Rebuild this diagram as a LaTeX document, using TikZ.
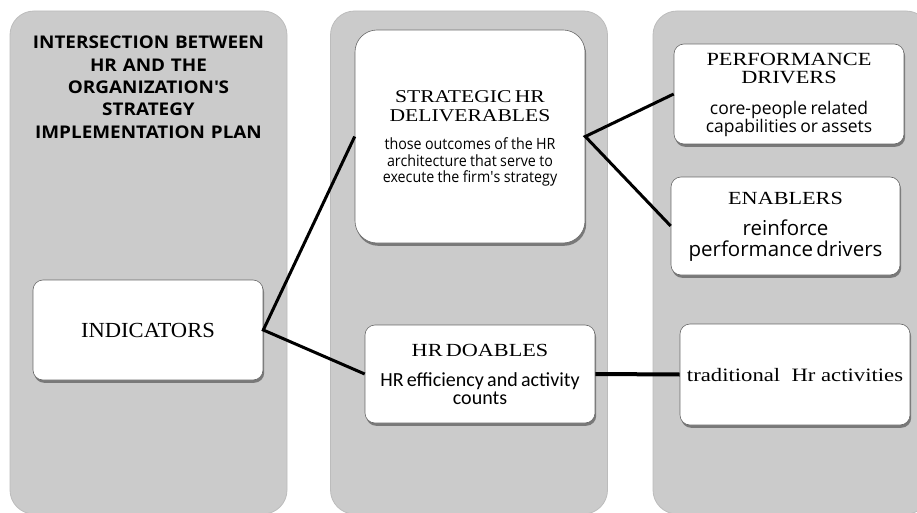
\documentclass[tikz,border=0pt]{standalone}
\usepackage{fontspec}
\setmainfont{Liberation Serif}
\newfontfamily\hdfont[FakeStretch=1.2]{Liberation Serif}
\newfontfamily\indfont[FakeStretch=1.05]{Liberation Serif}
\newfontfamily\bodyfont{Open Sans}
\newfontfamily\narrowbody[FakeStretch=0.92]{Open Sans}
\newfontfamily\calfont{Carlito}
\newfontfamily\titlefont[FakeStretch=1.08]{Open Sans}
\usetikzlibrary{shadows}
\definecolor{colgray}{RGB}{203,203,203}
\definecolor{coledge}{RGB}{188,188,188}
\definecolor{boxedge}{RGB}{105,105,105}
\lineskiplimit=-30pt
\begin{document}
\begin{tikzpicture}[x=1pt,y=-1pt,
  column/.style={fill=colgray, draw=coledge, line width=0.8pt, rounded corners=24pt,
    minimum width=277pt, minimum height=503pt, inner sep=0pt},
  card/.style={fill=white, draw=boxedge, line width=0.6pt, rounded corners=10pt,
    inner sep=0pt, align=center,
    drop shadow={shadow xshift=1.2pt, shadow yshift=-2.8pt, fill=black, opacity=0.4}},
  link/.style={line width=3pt, draw=black, line join=miter}
]
\useasboundingbox (0,0) rectangle (917,513);

% columns
\node[column] (col1) at (148.5,262.5) {};
\node[column] (col2) at (469,262.5) {};
\node[column] (col3) at (791.5,262.5) {};

% title
\node[anchor=north, text width=272pt, align=center, inner sep=0pt,
  font=\titlefont\bfseries\fontsize{17.5}{22.3}\selectfont] (title) at (148.5,36)
  {INTERSECTION BETWEEN\\HR AND THE\\ORGANIZATION\textquotesingle S\\STRATEGY\\IMPLEMENTATION PLAN};

% boxes
\node[card, minimum width=230pt, minimum height=100pt,
  font=\indfont\fontsize{21.5}{22}\selectfont] (ind) at (148,330) {INDICATORS};

\node[card, rounded corners=22pt, minimum width=230pt, minimum height=213pt, text width=228pt]
  (sd) at (470,136.5)
  {{\hdfont\fontsize{18}{19}\selectfont \rule{0pt}{16.7pt}STRATEGIC HR\\DELIVERABLES\par}
   \vskip 11.5pt
   {\narrowbody\fontsize{15.5}{16.5}\selectfont those outcomes of the HR\\architecture that serve to\\execute the firm\textquotesingle s strategy\par}};

\node[card, minimum width=230pt, minimum height=100pt, text width=228pt]
  (perf) at (789,94)
  {{\hdfont\fontsize{18.6}{18}\selectfont \rule{0pt}{14.2pt}PERFORMANCE\\DRIVERS\par}
   \vskip 14pt
   {\bodyfont\fontsize{17.5}{17}\selectfont core-people related\\capabilities or assets\par}};

\node[card, minimum width=229pt, minimum height=98pt, text width=227pt]
  (ena) at (785.5,226)
  {{\hdfont\fontsize{18.5}{19}\selectfont \rule{0pt}{14.9pt}ENABLERS\par}
   \vskip 10pt
   {\bodyfont\fontsize{20.5}{21}\selectfont reinforce\\performance drivers\par}};

\node[card, minimum width=230pt, minimum height=98pt, text width=228pt]
  (doa) at (480,374)
  {{\hdfont\fontsize{18.5}{19}\selectfont \rule{0pt}{14pt}HR DOABLES\par}
   \vskip 12pt
   {\calfont\fontsize{20}{18}\selectfont HR efficiency and activity\\counts\par}};

\node[card, minimum width=230pt, minimum height=101pt,
  font=\hdfont\fontsize{18.9}{19}\selectfont] (trad) at (795,374.5)
  {\rule{0pt}{15pt}traditional~ Hr activities};

% connectors
\draw[link] (sd.west) -- (ind.east) -- (doa.west);
\draw[link] (perf.west) -- (sd.east) -- (ena.west);
\draw[link, line width=4pt] (doa.east) -- (trad.west);
\end{tikzpicture}
\end{document}
